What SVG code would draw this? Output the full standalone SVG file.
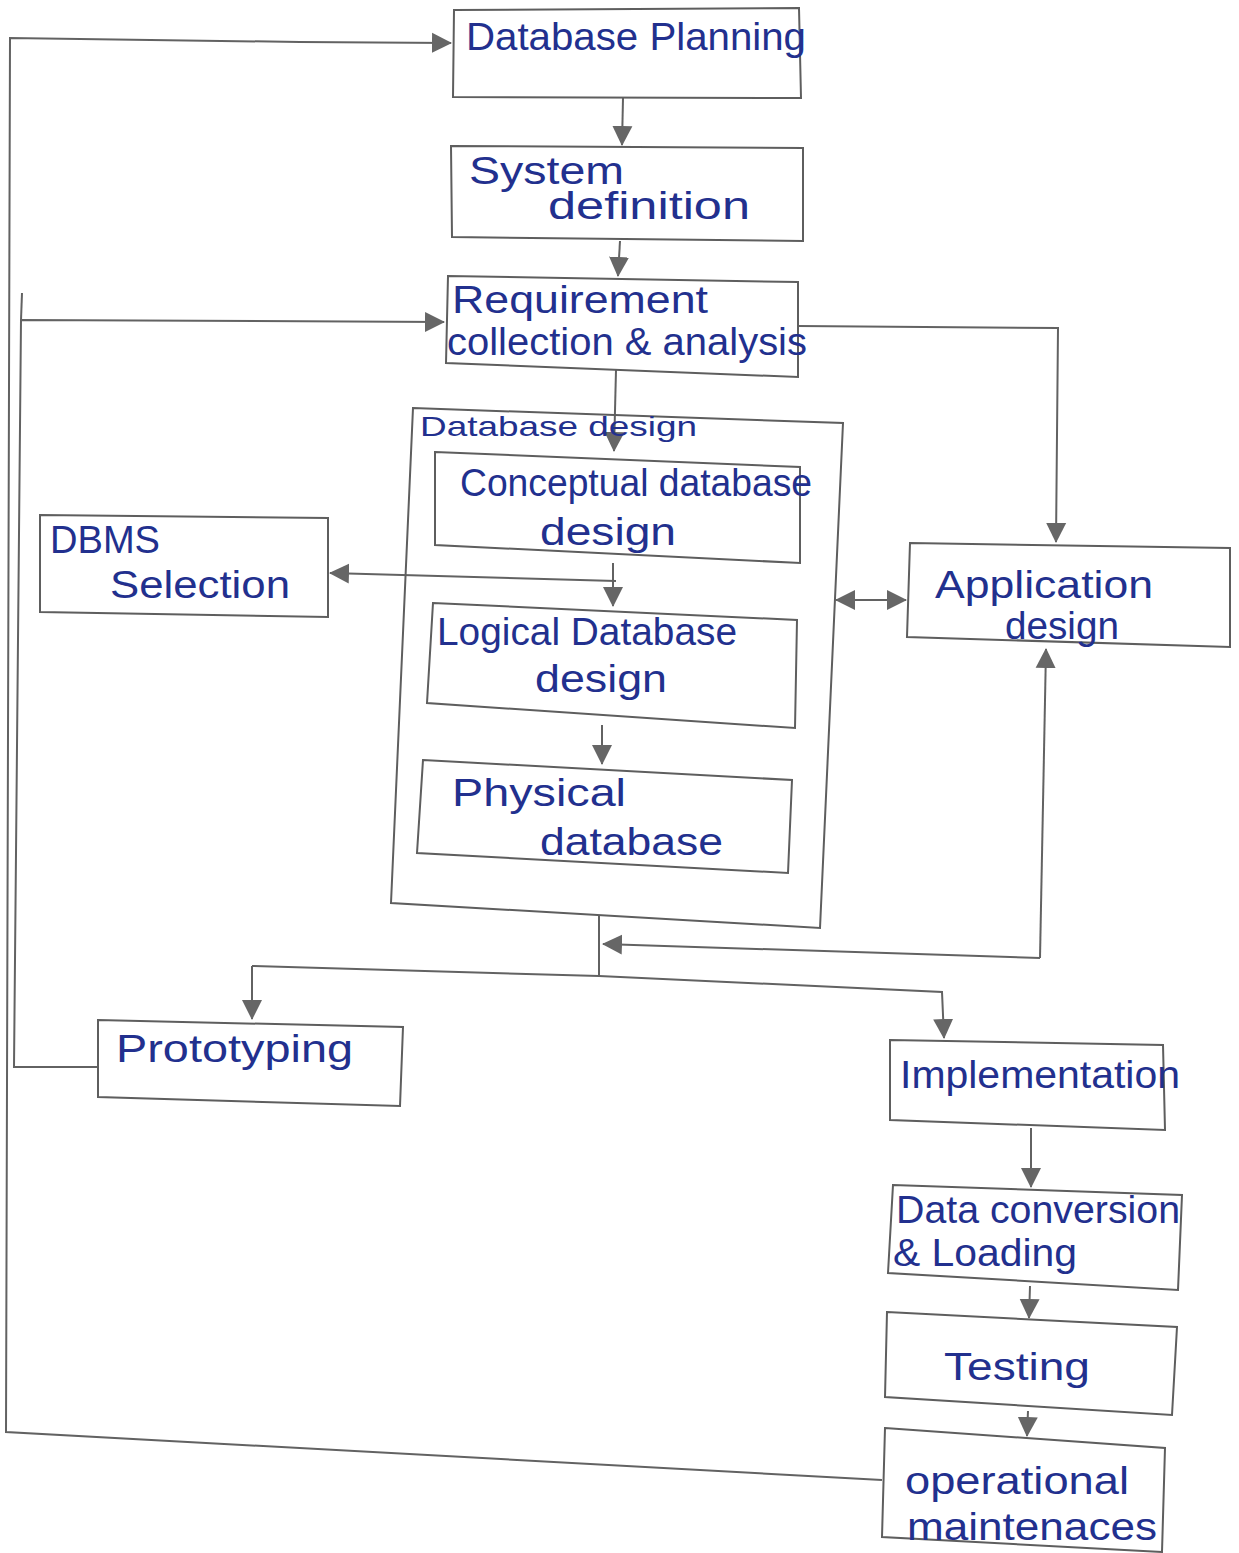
<svg xmlns="http://www.w3.org/2000/svg" width="1239" height="1553" viewBox="0 0 1239 1553">
  <style>
    .box { fill: none; stroke: #5e5e5e; stroke-width: 2; stroke-linejoin: miter; }
    .wire { fill: none; stroke: #626262; stroke-width: 2; }
    .lbl { font-family: "Liberation Sans", "DejaVu Sans", sans-serif; font-size: 38px; fill: #22308e; }
    .small { font-size: 28px; }
  </style>
  <defs>
    <marker id="head" viewBox="0 0 20 22" refX="19" refY="11" markerWidth="20" markerHeight="22" markerUnits="userSpaceOnUse" orient="auto-start-reverse">
      <path d="M0,1 L20,11 L0,21 z" fill="#666666"/>
    </marker>
  </defs>
  <rect width="1239" height="1553" fill="#ffffff"/>

  <!-- connectors -->
  <g id="connectors">
    <!-- maintenance feedback loop back to planning -->
    <path class="wire" d="M882,1480 L6,1432 L10,38 L300,42 L451,43" marker-end="url(#head)"/>
    <!-- prototyping feedback loop back to requirements -->
    <path class="wire" d="M98,1067 L14,1067 L21,320 L444,322" marker-end="url(#head)"/>
    <path class="wire" d="M21,320 L22,293"/>
    <!-- main sequence -->
    <path class="wire" d="M623,98 L622,145" marker-end="url(#head)"/>
    <path class="wire" d="M620,241 L618,276" marker-end="url(#head)"/>
    <path class="wire" d="M616,370 L614,451" marker-end="url(#head)"/>
    <path class="wire" d="M798,326 L1058,328 L1056,542" marker-end="url(#head)"/>
    <path class="wire" d="M613,563 L613,606" marker-end="url(#head)"/>
    <path class="wire" d="M616,581 L330,573" marker-end="url(#head)"/>
    <path class="wire" d="M602,725 L602,764" marker-end="url(#head)"/>
    <path class="wire" d="M836,600 L906,600" marker-start="url(#head)" marker-end="url(#head)"/>
    <!-- application design link to the design output -->
    <path class="wire" d="M1040,958 L603,944" marker-end="url(#head)"/>
    <path class="wire" d="M1040,958 L1046,649" marker-end="url(#head)"/>
    <!-- design output split -->
    <path class="wire" d="M599,915 L599,976"/>
    <path class="wire" d="M252,966 L599,976 L942,992 L944,1038" marker-end="url(#head)"/>
    <path class="wire" d="M252,966 L252,1019" marker-end="url(#head)"/>
    <!-- implementation chain -->
    <path class="wire" d="M1031,1128 L1031,1187" marker-end="url(#head)"/>
    <path class="wire" d="M1030,1286 L1029,1318" marker-end="url(#head)"/>
    <path class="wire" d="M1028,1411 L1027,1436" marker-end="url(#head)"/>
  </g>

  <g id="n-planning">
    <polygon class="box" points="454,10 799,8 801,98 453,97"/>
    <text class="lbl" x="466" y="50" textLength="340" lengthAdjust="spacingAndGlyphs">Database Planning</text>
  </g>
  <g id="n-sysdef">
    <polygon class="box" points="451,146 803,148 803,241 452,237"/>
    <text class="lbl" x="469" y="184" textLength="155" lengthAdjust="spacingAndGlyphs">System</text>
    <text class="lbl" x="548" y="219" textLength="202" lengthAdjust="spacingAndGlyphs">definition</text>
  </g>
  <g id="n-req">
    <polygon class="box" points="448,276 798,282 798,377 446,363"/>
    <text class="lbl" x="452" y="313" textLength="256" lengthAdjust="spacingAndGlyphs">Requirement</text>
    <text class="lbl" x="447" y="355" textLength="360" lengthAdjust="spacingAndGlyphs">collection &amp; analysis</text>
  </g>
  <g id="n-dbdesign">
    <polygon class="box" points="413,408 843,423 820,928 391,903"/>
    <text class="lbl small" x="420" y="436" textLength="277" lengthAdjust="spacingAndGlyphs">Database design</text>
  </g>
  <g id="n-conceptual">
    <polygon class="box" points="435,452 800,467 800,563 435,545"/>
    <text class="lbl" x="460" y="496" textLength="352" lengthAdjust="spacingAndGlyphs">Conceptual database</text>
    <text class="lbl" x="540" y="545" textLength="136" lengthAdjust="spacingAndGlyphs">design</text>
  </g>
  <g id="n-dbms">
    <polygon class="box" points="40,515 328,518 328,617 40,612"/>
    <text class="lbl" x="50" y="553" textLength="110" lengthAdjust="spacingAndGlyphs">DBMS</text>
    <text class="lbl" x="110" y="598" textLength="180" lengthAdjust="spacingAndGlyphs">Selection</text>
  </g>
  <g id="n-logical">
    <polygon class="box" points="433,603 797,620 795,728 427,703"/>
    <text class="lbl" x="437" y="645" textLength="300" lengthAdjust="spacingAndGlyphs">Logical Database</text>
    <text class="lbl" x="535" y="692" textLength="132" lengthAdjust="spacingAndGlyphs">design</text>
  </g>
  <g id="n-physical">
    <polygon class="box" points="423,760 792,780 788,873 417,853"/>
    <text class="lbl" x="452" y="806" textLength="174" lengthAdjust="spacingAndGlyphs">Physical</text>
    <text class="lbl" x="540" y="855" textLength="183" lengthAdjust="spacingAndGlyphs">database</text>
  </g>
  <g id="n-app">
    <polygon class="box" points="910,543 1230,548 1230,647 907,637"/>
    <text class="lbl" x="935" y="598" textLength="218" lengthAdjust="spacingAndGlyphs">Application</text>
    <text class="lbl" x="1005" y="639" textLength="114" lengthAdjust="spacingAndGlyphs">design</text>
  </g>
  <g id="n-proto">
    <polygon class="box" points="98,1020 403,1027 400,1106 98,1097"/>
    <text class="lbl" x="116" y="1062" textLength="237" lengthAdjust="spacingAndGlyphs">Prototyping</text>
  </g>
  <g id="n-impl">
    <polygon class="box" points="890,1040 1163,1045 1165,1130 890,1120"/>
    <text class="lbl" x="900" y="1088" textLength="280" lengthAdjust="spacingAndGlyphs">Implementation</text>
  </g>
  <g id="n-load">
    <polygon class="box" points="893,1185 1182,1195 1178,1290 888,1273"/>
    <text class="lbl" x="896" y="1223" textLength="284" lengthAdjust="spacingAndGlyphs">Data conversion</text>
    <text class="lbl" x="893" y="1266" textLength="184" lengthAdjust="spacingAndGlyphs">&amp; Loading</text>
  </g>
  <g id="n-test">
    <polygon class="box" points="887,1312 1177,1327 1172,1415 885,1397"/>
    <text class="lbl" x="944" y="1380" textLength="146" lengthAdjust="spacingAndGlyphs">Testing</text>
  </g>
  <g id="n-ops">
    <polygon class="box" points="885,1428 1165,1448 1162,1552 882,1537"/>
    <text class="lbl" x="905" y="1494" textLength="224" lengthAdjust="spacingAndGlyphs">operational</text>
    <text class="lbl" x="907" y="1540" textLength="250" lengthAdjust="spacingAndGlyphs">maintenaces</text>
  </g>
</svg>
